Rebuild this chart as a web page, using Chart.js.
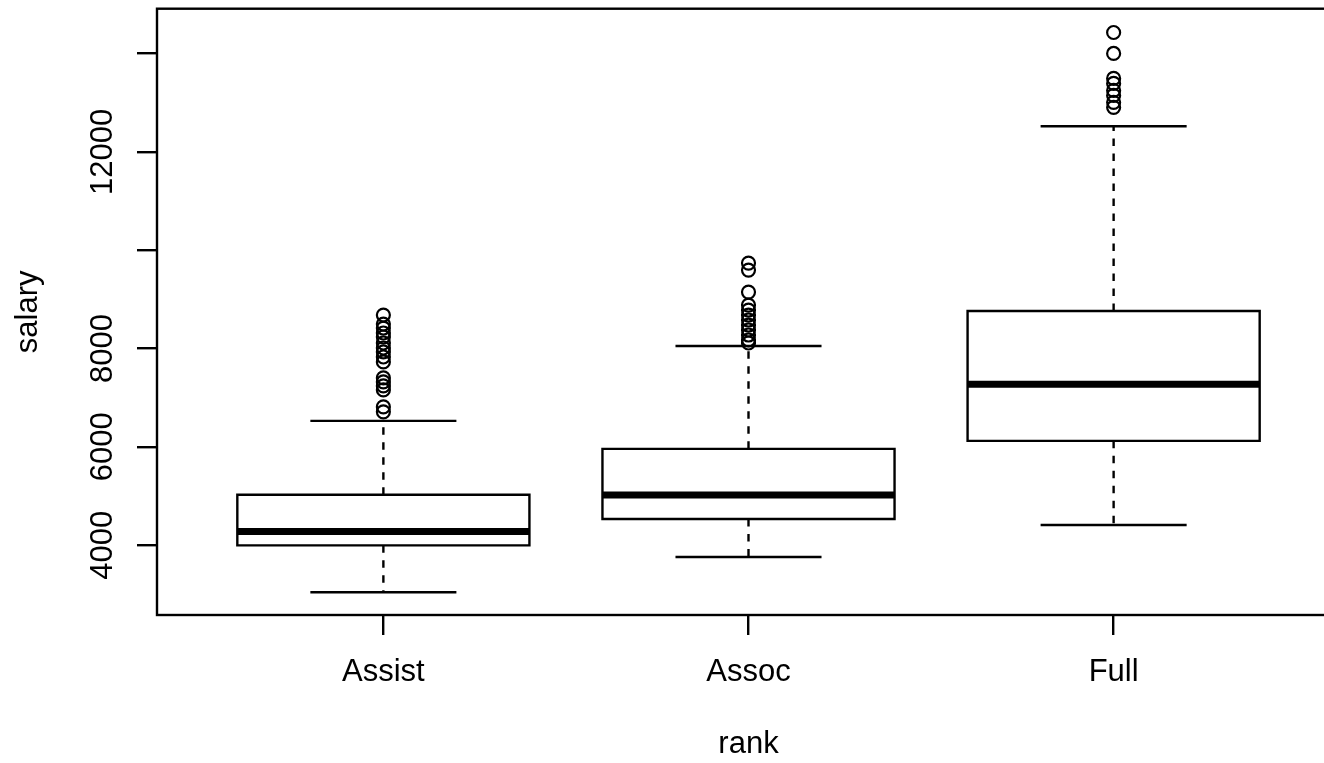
<!DOCTYPE html>
<html>
<head>
<meta charset="utf-8">
<title>salary by rank</title>
<script src="https://cdn.jsdelivr.net/npm/chart.js@4.4.1/dist/chart.umd.min.js"></script>
<style>
  html, body { margin: 0; padding: 0; background: #fff; overflow: hidden; }
  #wrap { position: relative; width: 1350px; height: 763px; }
</style>
</head>
<body>
<div id="wrap"><canvas id="chart"></canvas></div>
<script>
// values
const ranks = ['Assist', 'Assoc', 'Full']
const lowerWhisker = [3042, 3760, 4410]
const q1 = [3996, 4532, 6122]
const median = [4280, 5019, 7273]
const q3 = [5025, 5959, 8761]
const upperWhisker = [6528, 8051, 12518]
const outliersAssist = [8680, 8497, 8416, 8315, 8234, 8112, 8010, 7929, 7827, 7726, 7401, 7320, 7239, 7157, 6812, 6711]
const outliersAssoc = [9736, 9594, 9147, 8883, 8782, 8680, 8579, 8477, 8376, 8274, 8173, 8112]
const outliersFull = [14426, 14000, 13492, 13391, 13249, 13147, 13005, 12904]
const yTicks = [4000, 6000, 8000, 10000, 12000, 14000]
const yTickLabels = [4000, 6000, 8000, 12000]

const FONT = '"Liberation Sans", Arial, Helvetica, sans-serif'
const LW = 2.4
const halfBox = 0.4
const halfCap = 0.2
const gap = x => ({x, y: null})

// build the line pieces for each box
const boxPts = []
const whiskerPts = []
const capPts = []
const medianPts = []
ranks.forEach((r, i) => {
  const p = i + 1
  boxPts.push({x: p - halfBox, y: q1[i]}, {x: p + halfBox, y: q1[i]}, {x: p + halfBox, y: q3[i]},
    {x: p - halfBox, y: q3[i]}, {x: p - halfBox, y: q1[i]}, gap(p))
  whiskerPts.push({x: p, y: q3[i]}, {x: p, y: upperWhisker[i]}, gap(p),
    {x: p, y: q1[i]}, {x: p, y: lowerWhisker[i]}, gap(p))
  capPts.push({x: p - halfCap, y: upperWhisker[i]}, {x: p + halfCap, y: upperWhisker[i]}, gap(p),
    {x: p - halfCap, y: lowerWhisker[i]}, {x: p + halfCap, y: lowerWhisker[i]}, gap(p))
  medianPts.push({x: p - halfBox, y: median[i]}, {x: p + halfBox, y: median[i]}, gap(p))
})
const outlierPts = [outliersAssist, outliersAssoc, outliersFull]
  .flatMap((list, i) => list.map(v => ({x: i + 1, y: v})))

const lineSet = (data, extra) => Object.assign({
  type: 'line', data, borderColor: '#000', borderWidth: LW, pointRadius: 0,
  fill: false, tension: 0, spanGaps: false, borderCapStyle: 'butt', borderJoinStyle: 'miter'
}, extra)

// frame, rotated y labels and axis titles
const rPlot = {
  id: 'rPlot',
  afterDraw(chart) {
    const {ctx, chartArea: a, scales: {y}} = chart
    ctx.save()
    ctx.strokeStyle = '#000'
    ctx.lineWidth = LW
    ctx.strokeRect(a.left, a.top, a.right - a.left, a.bottom - a.top)
    ctx.fillStyle = '#000'
    ctx.font = '31px ' + FONT
    ctx.textAlign = 'center'
    ctx.textBaseline = 'alphabetic'
    yTickLabels.forEach(v => {
      ctx.save()
      ctx.translate(112, y.getPixelForValue(v))
      ctx.rotate(-Math.PI / 2)
      ctx.fillText(String(v), 0, 0)
      ctx.restore()
    })
    ctx.save()
    ctx.translate(37, (a.top + a.bottom) / 2)
    ctx.rotate(-Math.PI / 2)
    ctx.fillText('salary', 0, 0)
    ctx.restore()
    ctx.fillText('rank', (a.left + a.right) / 2, 753)
    ctx.restore()
  }
}

new Chart(document.getElementById('chart'), {
  type: 'line',
  data: {
    datasets: [
      lineSet(outlierPts, {showLine: false, pointRadius: 6.5, pointBorderWidth: 2.2, pointStyle: 'circle',
        pointBackgroundColor: 'rgba(0,0,0,0)', pointBorderColor: '#000', order: 0}),
      lineSet(medianPts, {borderWidth: 7, order: 1}),
      lineSet(boxPts, {borderCapStyle: 'square', order: 2}),
      lineSet(capPts, {order: 3}),
      lineSet(whiskerPts, {borderDash: [7.5, 7.5], order: 4})
    ]
  },
  options: {
    responsive: true,
    maintainAspectRatio: false,
    animation: false,
    layout: {padding: {left: 0, top: 8, right: 10, bottom: 0}},
    plugins: {legend: {display: false}, tooltip: {enabled: false}},
    scales: {
      x: {
        type: 'linear', min: 0.38, max: 3.62,
        afterBuildTicks: s => { s.ticks = ranks.map((r, i) => ({value: i + 1})) },
        afterFit: s => { s.height = 148 },
        ticks: {
          autoSkip: false, maxRotation: 0, padding: 19, color: '#000',
          font: {family: FONT, size: 31},
          callback: v => ranks[v - 1]
        },
        grid: {drawOnChartArea: false, drawTicks: true, tickLength: 20, color: '#000', lineWidth: LW},
        border: {display: false}
      },
      y: {
        type: 'linear', min: 2580, max: 14910,
        afterBuildTicks: s => { s.ticks = yTicks.map(v => ({value: v})) },
        afterFit: s => { s.width = 157 },
        ticks: {display: false},
        grid: {drawOnChartArea: false, drawTicks: true, tickLength: 20, color: '#000', lineWidth: LW},
        border: {display: false}
      }
    }
  },
  plugins: [rPlot]
})
</script>
</body>
</html>
